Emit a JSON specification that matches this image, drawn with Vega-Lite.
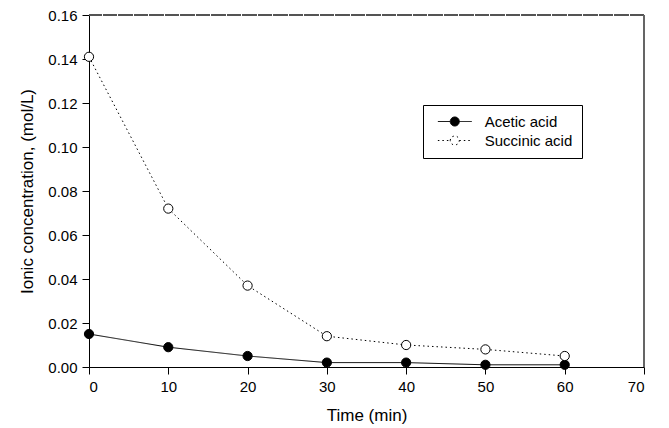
{
  "$schema": "https://vega.github.io/schema/vega-lite/v6.json",
  "autosize": "none",
  "width": 555,
  "height": 352,
  "padding": {"left": 89, "top": 15, "right": 25, "bottom": 61},
  "background": "white",
  "config": {
    "view": {"stroke": null},
    "font": "Liberation Sans",
    "axis": {
      "domainColor": "black",
      "tickColor": "black",
      "tickSize": 7,
      "labelFontSize": 15,
      "labelColor": "black",
      "titleFontSize": 17,
      "titleFontWeight": "normal",
      "titleColor": "black",
      "grid": false
    },
    "legend": {
      "orient": "none",
      "legendX": 334,
      "legendY": 90,
      "strokeColor": "black",
      "fillColor": "white",
      "padding": 9,
      "rowPadding": 3,
      "labelFontSize": 15,
      "labelColor": "black",
      "labelOffset": 37.7,
      "symbolSize": 128,
      "symbolStrokeColor": "black",
      "symbolStrokeWidth": 1,
      "symbolType": "M-0.29,0H1.9M3.5,0H5.72M1.9,0A0.8,0.8 0 1,1 3.5,0A0.8,0.8 0 1,1 1.9,0Z"
    }
  },
  "data": {
    "values": [
      {"time": 0, "conc": 0.015, "series": "Acetic acid"},
      {"time": 10, "conc": 0.009, "series": "Acetic acid"},
      {"time": 20, "conc": 0.005, "series": "Acetic acid"},
      {"time": 30, "conc": 0.002, "series": "Acetic acid"},
      {"time": 40, "conc": 0.002, "series": "Acetic acid"},
      {"time": 50, "conc": 0.001, "series": "Acetic acid"},
      {"time": 60, "conc": 0.001, "series": "Acetic acid"},
      {"time": 0, "conc": 0.141, "series": "Succinic acid"},
      {"time": 10, "conc": 0.072, "series": "Succinic acid"},
      {"time": 20, "conc": 0.037, "series": "Succinic acid"},
      {"time": 30, "conc": 0.014, "series": "Succinic acid"},
      {"time": 40, "conc": 0.010, "series": "Succinic acid"},
      {"time": 50, "conc": 0.008, "series": "Succinic acid"},
      {"time": 60, "conc": 0.005, "series": "Succinic acid"}
    ]
  },
  "encoding": {
    "x": {
      "field": "time", "type": "quantitative", "title": "Time (min)",
      "scale": {"domain": [0, 70], "nice": false, "zero": true},
      "axis": {"values": [0, 10, 20, 30, 40, 50, 60, 70], "labelPadding": 5, "titlePadding": 13}
    },
    "y": {
      "field": "conc", "type": "quantitative", "title": "Ionic concentration, (mol/L)",
      "scale": {"domain": [0, 0.16], "nice": false},
      "axis": {"values": [0, 0.02, 0.04, 0.06, 0.08, 0.1, 0.12, 0.14, 0.16], "format": ".2f", "labelPadding": 5, "titlePadding": 11}
    }
  },
  "layer": [
    {
      "mark": {"type": "rule", "color": "#555", "strokeWidth": 1, "strokeDash": [14, 1.5]},
      "encoding": {"y": {"datum": 0.16}, "x": null}
    },
    {
      "mark": {"type": "rule", "color": "#666", "strokeWidth": 1.5},
      "encoding": {"x": {"datum": 70}, "y": null}
    },
    {
      "mark": {"type": "line", "color": "black", "strokeWidth": 1},
      "encoding": {
        "strokeDash": {
          "field": "series", "type": "nominal", "title": null,
          "scale": {"domain": ["Acetic acid", "Succinic acid"], "range": [[1, 0], [1.5, 3]]}
        }
      }
    },
    {
      "mark": {"type": "point", "shape": "circle", "size": 85, "stroke": "black", "strokeWidth": 1, "opacity": 1, "filled": true},
      "encoding": {
        "fill": {
          "field": "series", "type": "nominal", "title": null,
          "scale": {"domain": ["Acetic acid", "Succinic acid"], "range": ["black", "white"]}
        }
      }
    }
  ]
}
